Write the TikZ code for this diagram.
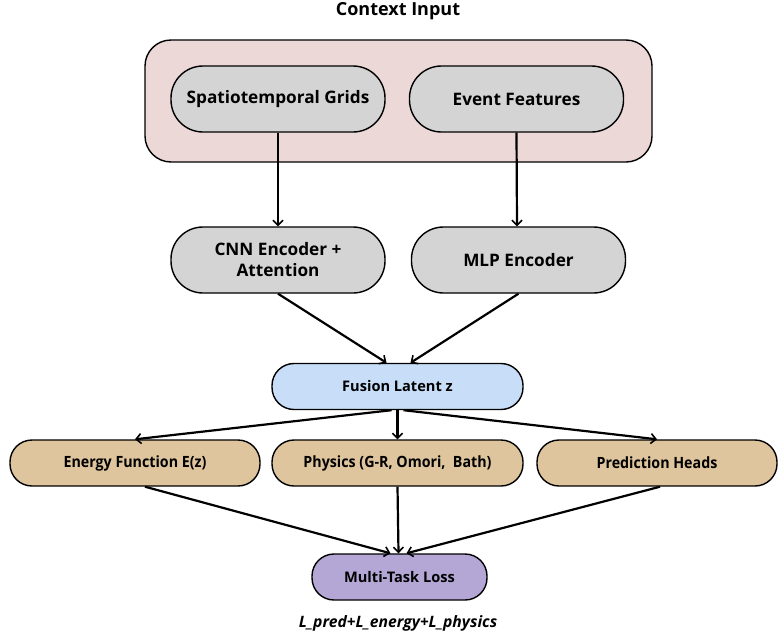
\documentclass[tikz,border=0pt]{standalone}
\usepackage{fontspec}
\setmainfont{Open Sans}
\usetikzlibrary{arrows.meta,calc}
\definecolor{ctxpink}{HTML}{EDD8D8}
\definecolor{boxgray}{HTML}{D4D4D4}
\definecolor{fuseblue}{HTML}{C8DEF8}
\definecolor{headtan}{HTML}{DEC59D}
\definecolor{losspurple}{HTML}{B4A7D6}
\tikzset{
  pill/.style={draw=black, line width=1.4pt, align=center, font=\bfseries,
    inner sep=0pt},
  bigpill/.style={pill, minimum width=214pt, minimum height=66pt,
    rounded corners=32pt, fill=boxgray, font=\bfseries\fontsize{17.2}{21}\selectfont},
  smallpill/.style={pill, minimum height=46pt, rounded corners=22pt,
    font=\bfseries\fontsize{14.6}{17}\selectfont},
  headpill/.style={smallpill, fill=headtan,
    font=\bfseries\fontsize{15.5}{18}\selectfont},
  flow/.style={line width=2.2pt, -{Straight Barb[length=5pt,width=10pt,line width=1.6pt]}},
}
\begin{document}
\begin{tikzpicture}[x=1pt,y=-1pt]
\useasboundingbox (0,0) rectangle (778,640);
\fill[white] (0,0) rectangle (778,640);

% context container
\node[draw=black, line width=1.4pt, fill=ctxpink, rounded corners=26pt,
  minimum width=507pt, minimum height=122pt, inner sep=0pt] (ctx) at (398.5,101) {};
\node[font=\bfseries\fontsize{18}{21}\selectfont] (title) at (398,11) {Context Input};

% inputs
\node[bigpill] (grid) at (278,99) {Spatiotemporal Grids};
\node[bigpill] (event) at (516.5,99) {Event Features};

% encoders
\node[bigpill] (cnn) at (278,260) {CNN Encoder +\\Attention};
\node[bigpill] (mlp) at (518.5,260) {MLP Encoder};

% fused latent
\node[smallpill, fill=fuseblue, minimum width=251pt] (fuse) at (397.5,386.5) {Fusion Latent z};

% heads (narrow lettering)
\node[headpill, minimum width=250pt] (energy) at (135,463) {\scalebox{0.92}[1]{Energy Function E(z)}};
\node[headpill, minimum width=251pt] (phys) at (397.5,463) {\scalebox{0.92}[1]{Physics (G-R, Omori,\ \ Bath)}};
\node[headpill, minimum width=240pt] (pred) at (657,463) {\scalebox{0.92}[1]{Prediction Heads}};

% loss
\node[smallpill, fill=losspurple, minimum width=175pt] (loss) at (399.5,577) {Multi-Task Loss};
\node[font=\bfseries\itshape\fontsize{15.7}{18}\selectfont] (formula) at (398,623) {L\_pred+L\_energy+L\_physics};

% connectors
\draw[flow] (grid.south) -- (cnn.north);
\draw[flow] (event.south) -- ($(mlp.north)+(-1.5,0)$);
\draw[flow] (cnn.south) -- ($(fuse.north)+(-11,0)$);
\draw[flow] (mlp.south) -- ($(fuse.north)+(13,0)$);
\draw[flow] ($(fuse.south)+(-6,0)$) -- (energy.north);
\draw[flow] (fuse.south) -- (phys.north);
\draw[flow] ($(fuse.south)+(6,0)$) -- (pred.north);
\draw[flow] ($(energy.south)+(10,0)$) -- ($(loss.north)+(-9,0)$);
\draw[flow] (phys.south) -- ($(loss.north)+(-1,0)$);
\draw[flow] ($(pred.south)+(3,0)$) -- ($(loss.north)+(7,0)$);
\end{tikzpicture}
\end{document}
